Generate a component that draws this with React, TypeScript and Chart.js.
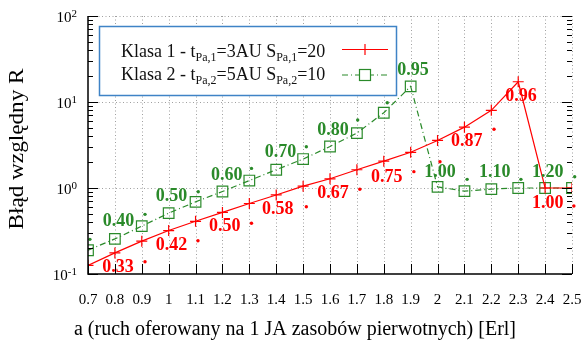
import React, { useEffect, useRef } from "react";
import { Chart, registerables } from "chart.js";

Chart.register(...registerables);

const xValues = [0.7, 0.8, 0.9, 1.0, 1.1, 1.2, 1.3, 1.4, 1.5, 1.6, 1.7, 1.8, 1.9, 2.0, 2.1, 2.2, 2.3, 2.4, 2.5];
const xTickLabels = ["0.7", "0.8", "0.9", "1", "1.1", "1.2", "1.3", "1.4", "1.5", "1.6", "1.7", "1.8", "1.9", "2", "2.1", "2.2", "2.3", "2.4", "2.5"];
const yTickValues = [0.1, 1, 10, 100];
const yTickExponents = ["-1", "0", "1", "2"];

const klasa1 = [0.126, 0.176, 0.241, 0.32, 0.41, 0.52, 0.66, 0.83, 1.05, 1.28, 1.63, 2.05, 2.6, 3.57, 5.1, 8.0, 17.2, 1.0, 1.0];
const klasa2 = [0.189, 0.256, 0.36, 0.51, 0.69, 0.91, 1.22, 1.63, 2.17, 3.04, 4.35, 7.5, 15.2, 1.03, 0.92, 0.97, 1.0, 1.0, 1.0];

const klasa1LabelText = ["0.33", "0.42", "0.50", "0.58", "0.67", "0.75", "0.87", "0.96", "1.00"];
const klasa1LabelX = [0.812, 1.011, 1.209, 1.406, 1.611, 1.811, 2.109, 2.31, 2.41];
const klasa1LabelY = [0.121, 0.213, 0.355, 0.57, 0.868, 1.33, 3.45, 11.5, 0.664];
const klasa1DotX = [0.674, 0.912, 1.109, 1.308, 1.512, 1.711, 1.912, 2.009, 2.21, 2.507];
const klasa1DotY = [0.0751, 0.139, 0.244, 0.389, 0.606, 0.966, 1.55, 2.02, 4.82, 0.617];

const klasa2LabelText = ["0.40", "0.50", "0.60", "0.70", "0.80", "0.95", "1.00", "1.10", "1.20"];
const klasa2LabelX = [0.813, 1.011, 1.216, 1.416, 1.611, 1.909, 2.009, 2.213, 2.41];
const klasa2LabelY = [0.406, 0.807, 1.42, 2.57, 4.72, 23.5, 1.51, 1.51, 1.53];
const klasa2DotX = [0.707, 0.912, 1.11, 1.308, 1.512, 1.703, 1.813, 2.11, 2.31, 2.51];
const klasa2DotY = [0.253, 0.494, 0.906, 1.69, 3.02, 6.18, 9.8, 1.26, 1.26, 1.35];

const legendLine1 = [
  { t: "Klasa 1 - t", sub: false },
  { t: "Pa,1", sub: true },
  { t: "=3AU S", sub: false },
  { t: "Pa,1", sub: true },
  { t: "=20", sub: false },
];
const legendLine2 = [
  { t: "Klasa 2 - t", sub: false },
  { t: "Pa,2", sub: true },
  { t: "=5AU S", sub: false },
  { t: "Pa,2", sub: true },
  { t: "=10", sub: false },
];
const xTitle = "a (ruch oferowany na 1 JA zasobów pierwotnych) [Erl]";
const yTitle = "Błąd względny R";

const RED = "#ff0000";
const GREEN = "#2a8a2a";
const SERIF = "'Liberation Serif', 'Times New Roman', serif";

function drawRich(ctx: CanvasRenderingContext2D, parts: { t: string; sub: boolean }[], x: number, y: number) {
  let cx = x;
  for (const p of parts) {
    ctx.font = p.sub ? `12px ${SERIF}` : `18px ${SERIF}`;
    ctx.fillText(p.t, cx, p.sub ? y + 4 : y);
    cx += ctx.measureText(p.t).width;
  }
}

const decorPlugin = {
  id: "decor",
  beforeDatasetsDraw(chart: any) {
    const { ctx, chartArea, scales } = chart;
    const xs = scales.x;
    const ys = scales.y;
    ctx.save();
    ctx.strokeStyle = "#a0a0a0";
    ctx.lineWidth = 1;
    ctx.setLineDash([1, 2.5]);
    xValues.forEach((v, i) => {
      if (i === 0) return;
      const px = Math.round(xs.getPixelForValue(v)) + 0.5;
      ctx.beginPath();
      ctx.moveTo(px, chartArea.top);
      ctx.lineTo(px, chartArea.bottom);
      ctx.stroke();
    });
    yTickValues.forEach((v, i) => {
      if (i === 0) return;
      const py = Math.round(ys.getPixelForValue(v)) + 0.5;
      ctx.beginPath();
      ctx.moveTo(chartArea.left, py);
      ctx.lineTo(chartArea.right, py);
      ctx.stroke();
    });
    ctx.restore();
  },
  afterDatasetsDraw(chart: any) {
    const { ctx, chartArea, scales } = chart;
    const xs = scales.x;
    const ys = scales.y;
    ctx.save();
    // axes
    ctx.strokeStyle = "#000";
    ctx.lineWidth = 1.5;
    ctx.setLineDash([]);
    ctx.beginPath();
    ctx.moveTo(chartArea.left, chartArea.top);
    ctx.lineTo(chartArea.left, chartArea.bottom);
    ctx.lineTo(chartArea.right, chartArea.bottom);
    ctx.stroke();
    // x ticks
    ctx.lineWidth = 1;
    xValues.forEach((v) => {
      const px = Math.round(xs.getPixelForValue(v)) + 0.5;
      ctx.beginPath();
      ctx.moveTo(px, chartArea.bottom);
      ctx.lineTo(px, chartArea.bottom - 10);
      ctx.stroke();
    });
    // y ticks (major + minor, both sides)
    for (let e = -1; e <= 2; e++) {
      for (let m = 1; m <= 9; m++) {
        const v = m * Math.pow(10, e);
        if (v > 100.0001) continue;
        const py = Math.round(ys.getPixelForValue(v)) + 0.5;
        const len = m === 1 ? 10 : 5;
        ctx.beginPath();
        ctx.moveTo(chartArea.left, py);
        ctx.lineTo(chartArea.left + len, py);
        ctx.moveTo(chartArea.right, py);
        ctx.lineTo(chartArea.right - len, py);
        ctx.stroke();
      }
    }
    // x tick labels
    ctx.fillStyle = "#000";
    ctx.font = `15px ${SERIF}`;
    ctx.textAlign = "center";
    ctx.textBaseline = "middle";
    xValues.forEach((v, i) => {
      ctx.fillText(xTickLabels[i], xs.getPixelForValue(v), 300);
    });
    // y tick labels
    ctx.textBaseline = "alphabetic";
    yTickValues.forEach((v, i) => {
      const py = ys.getPixelForValue(v);
      ctx.font = `11px ${SERIF}`;
      const ew = ctx.measureText(yTickExponents[i]).width;
      ctx.textAlign = "right";
      ctx.fillText(yTickExponents[i], 77, py + 1);
      ctx.font = `15px ${SERIF}`;
      ctx.fillText("10", 77 - ew, py + 6);
    });
    // axis titles
    ctx.font = `20px ${SERIF}`;
    ctx.textAlign = "center";
    ctx.textBaseline = "middle";
    ctx.fillText(xTitle, 295, 330);
    ctx.save();
    ctx.translate(18, (chartArea.top + chartArea.bottom) / 2 + 4);
    ctx.rotate(-Math.PI / 2);
    ctx.scale(1.16, 1);
    ctx.fillText(yTitle, 0, 0);
    ctx.restore();
    // value labels
    ctx.font = `bold 18px ${SERIF}`;
    ctx.textAlign = "center";
    ctx.textBaseline = "middle";
    ctx.fillStyle = RED;
    klasa1LabelText.forEach((t, i) => {
      ctx.fillText(t, xs.getPixelForValue(klasa1LabelX[i]), ys.getPixelForValue(klasa1LabelY[i]));
    });
    ctx.fillStyle = GREEN;
    klasa2LabelText.forEach((t, i) => {
      ctx.fillText(t, xs.getPixelForValue(klasa2LabelX[i]), ys.getPixelForValue(klasa2LabelY[i]));
    });
    // legend
    const bx = 99.5, by = 26.5, bw = 297, bh = 69;
    ctx.fillStyle = "#fff";
    ctx.fillRect(bx, by, bw, bh);
    ctx.strokeStyle = "#3f83c6";
    ctx.lineWidth = 1.5;
    ctx.strokeRect(bx, by, bw, bh);
    ctx.fillStyle = "#111";
    ctx.textAlign = "left";
    ctx.textBaseline = "alphabetic";
    drawRich(ctx, legendLine1, 121, 57);
    drawRich(ctx, legendLine2, 121, 80);
    // legend samples
    ctx.lineWidth = 1.2;
    ctx.strokeStyle = RED;
    ctx.beginPath();
    ctx.moveTo(342, 49.5);
    ctx.lineTo(388, 49.5);
    ctx.moveTo(365, 44);
    ctx.lineTo(365, 55);
    ctx.stroke();
    ctx.strokeStyle = GREEN;
    ctx.setLineDash([6, 3, 1, 3]);
    ctx.beginPath();
    ctx.moveTo(342, 75);
    ctx.lineTo(388, 75);
    ctx.stroke();
    ctx.setLineDash([]);
    ctx.fillStyle = "#fff";
    ctx.fillRect(359.5, 69.5, 11, 11);
    ctx.strokeRect(359.5, 69.5, 11, 11);
    ctx.restore();
  },
};

export default function App() {
  const ref = useRef<HTMLCanvasElement | null>(null);
  useEffect(() => {
    if (!ref.current) return;
    const chart = new Chart(ref.current, {
      type: "line",
      data: {
        datasets: [
          {
            label: "Klasa 1",
            data: xValues.map((x, i) => ({ x, y: klasa1[i] })),
            borderColor: RED,
            borderWidth: 1.2,
            pointStyle: "cross",
            pointRadius: 5.5,
            pointBorderColor: RED,
            pointBorderWidth: 1.2,
            pointBackgroundColor: RED,
            tension: 0,
            fill: false,
          },
          {
            label: "Klasa 2",
            data: xValues.map((x, i) => ({ x, y: klasa2[i] })),
            borderColor: GREEN,
            borderWidth: 1.2,
            borderDash: [6, 3, 1, 3],
            pointStyle: "rect",
            pointRadius: 7.5,
            pointBorderColor: GREEN,
            pointBorderWidth: 1.2,
            pointBackgroundColor: "rgba(0,0,0,0)",
            tension: 0,
            fill: false,
          },
          {
            label: "k1 dots",
            data: klasa1DotX.map((x, i) => ({ x, y: klasa1DotY[i] })),
            showLine: false,
            pointStyle: "circle",
            pointRadius: 1.7,
            pointBorderWidth: 0,
            pointBackgroundColor: RED,
            borderColor: RED,
            clip: false,
          },
          {
            label: "k2 dots",
            data: klasa2DotX.map((x, i) => ({ x, y: klasa2DotY[i] })),
            showLine: false,
            pointStyle: "circle",
            pointRadius: 1.7,
            pointBorderWidth: 0,
            pointBackgroundColor: GREEN,
            borderColor: GREEN,
            clip: false,
          },
        ],
      },
      options: {
        animation: false,
        responsive: false,
        maintainAspectRatio: false,
        layout: { padding: { left: 0, top: 16, right: 11, bottom: 0 } },
        plugins: { legend: { display: false }, tooltip: { enabled: false } },
        scales: {
          x: {
            type: "linear",
            min: 0.7,
            max: 2.5,
            grid: { display: false },
            border: { display: false },
            ticks: { display: false },
            afterFit: (scale: any) => {
              scale.height = 76;
            },
          },
          y: {
            type: "logarithmic",
            min: 0.1,
            max: 100,
            grid: { display: false },
            border: { display: false },
            ticks: { display: false },
            afterFit: (scale: any) => {
              scale.width = 88;
            },
          },
        },
      },
      plugins: [decorPlugin],
    } as any);
    return () => chart.destroy();
  }, []);
  return (
    <div style={{ position: "fixed", left: 0, top: 0, width: 583, height: 350, background: "#fff" }}>
      <canvas ref={ref} width={583} height={350} style={{ display: "block" }} />
    </div>
  );
}
